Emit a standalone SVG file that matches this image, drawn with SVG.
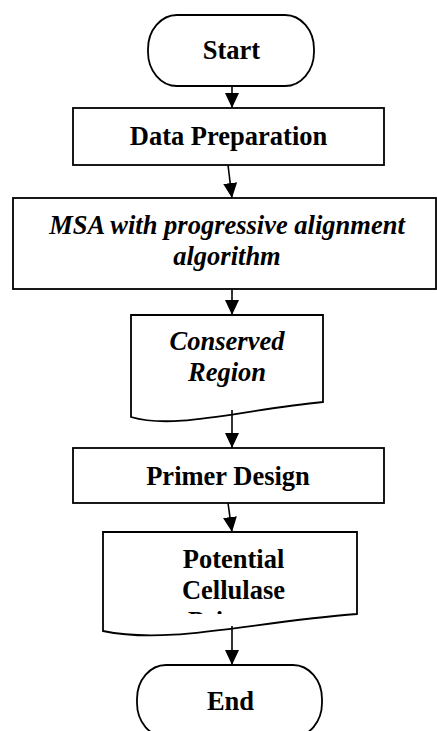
<svg xmlns="http://www.w3.org/2000/svg" width="437" height="731" viewBox="0 0 437 731">
<style>
.shape{fill:#fff;stroke:#000;stroke-width:1.8}
.t{font-family:"Liberation Serif","Times New Roman",serif;font-size:26.5px;font-weight:bold;fill:#000;text-anchor:middle}
.i{font-style:italic}
.conn line{stroke:#000;stroke-width:1.6;fill:none}
</style>
<defs>
<marker id="arr" markerUnits="userSpaceOnUse" markerWidth="15" markerHeight="14" refX="15" refY="7" orient="auto">
<path d="M0,0 L15,7 L0,14 z" fill="#000"/>
</marker>
<clipPath id="potclip"><rect x="100" y="530" width="260" height="84"/></clipPath>
</defs>
<rect width="437" height="731" fill="#fff"/>
<g id="start">
<rect class="shape" x="148" y="15" width="166" height="71" rx="29" ry="34"/>
<text class="t" x="231.5" y="59">Start</text>
</g>
<g id="data-preparation">
<rect class="shape" x="73" y="108" width="311" height="57"/>
<text class="t" x="228.5" y="145">Data Preparation</text>
</g>
<g id="msa">
<rect class="shape" x="13" y="198" width="423" height="91"/>
<text class="t i" x="227" y="234">MSA with progressive alignment</text>
<text class="t i" x="227" y="265">algorithm</text>
</g>
<g id="conserved-region">
<path class="shape" d="M131,417 V315 H323 V402 C240,410 175,430 131,417 Z"/>
<text class="t i" x="227" y="350">Conserved</text>
<text class="t i" x="227" y="381">Region</text>
</g>
<g id="primer-design">
<rect class="shape" x="73" y="448" width="311" height="55"/>
<text class="t" x="228" y="485">Primer Design</text>
</g>
<g id="potential-cellulase">
<path class="shape" d="M103,631 V532 H357 V614 C250,622 170,645 103,631 Z"/>
<g clip-path="url(#potclip)">
<text class="t" x="233.5" y="568">Potential</text>
<text class="t" x="233.5" y="599">Cellulase</text>
<text class="t" x="233.5" y="630">Primers</text>
</g>
</g>
<g id="end">
<rect class="shape" x="137" y="665" width="185" height="72" rx="29" ry="34"/>
<text class="t" x="230.5" y="710">End</text>
</g>
<g id="connectors" class="conn">
<line x1="232" y1="86" x2="232" y2="108" marker-end="url(#arr)"/>
<line x1="228" y1="165" x2="232" y2="198" marker-end="url(#arr)"/>
<line x1="232" y1="289" x2="232" y2="315" marker-end="url(#arr)"/>
<line x1="232" y1="410" x2="232" y2="448" marker-end="url(#arr)"/>
<line x1="228" y1="503" x2="232" y2="532" marker-end="url(#arr)"/>
<line x1="232" y1="626" x2="232" y2="665" marker-end="url(#arr)"/>
</g>
</svg>
